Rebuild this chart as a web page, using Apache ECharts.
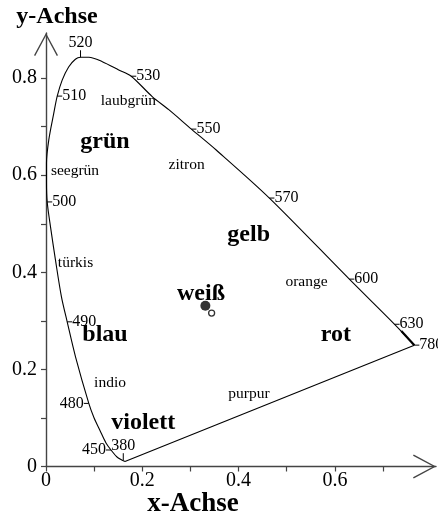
<!DOCTYPE html>
<html>
<head>
<meta charset="utf-8">
<script src="https://cdn.jsdelivr.net/npm/echarts@6/dist/echarts.min.js"></script>
<style>
  html, body { margin: 0; padding: 0; background: #fff; }
  #chart { width: 438px; height: 515px; }
</style>
</head>
<body>
<div id="chart"></div>
<script>
// Spektralfarbenzug der Normfarbtafel, von 380 nm über 520 nm bis 780 nm
const zugX = [0.164, 0.1475, 0.135, 0.1246, 0.1121, 0.0997, 0.0889, 0.0613, 0.044, 0.032, 0.0197, 0.0093,
              0.0025, 0.001, 0.001, 0.0058, 0.016, 0.0233, 0.0336, 0.047, 0.061, 0.0717, 0.089, 0.117, 0.151,
              0.177, 0.2206, 0.255, 0.302, 0.3535, 0.464, 0.630, 0.724, 0.765];
const zugY = [0.0103, 0.0196, 0.034, 0.0484, 0.0742, 0.1004, 0.130, 0.226, 0.298, 0.350, 0.425, 0.494,
              0.545, 0.585, 0.625, 0.673, 0.727, 0.763, 0.796, 0.823, 0.839, 0.843, 0.843, 0.834, 0.817,
              0.804, 0.762, 0.735, 0.695, 0.652, 0.553, 0.386, 0.293, 0.250];

// dicht gedrängtes langwelliges Ende (ca. 680–780 nm)
const rotEndeX = [0.738, 0.765];
const rotEndeY = [0.279, 0.250];

// Wellenlängenmarken in nm
const wlNamen = ['380', '450', '480', '490', '500', '510', '520', '530', '550', '570', '600', '630', '780'];
const wlX = [0.1605, 0.135, 0.0889, 0.044, 0.0025, 0.0233, 0.0717, 0.177, 0.302, 0.464, 0.630, 0.724, 0.765];
const wlY = [0.013, 0.034, 0.130, 0.298, 0.545, 0.763, 0.843, 0.804, 0.695, 0.553, 0.386, 0.293, 0.250];
const wlSeite = ['oben', 'links', 'links', 'rechts', 'rechts', 'rechts', 'oben', 'rechts', 'rechts', 'rechts', 'rechts', 'rechts', 'rechts'];

// Farbbezeichnungen
const farbNamen = ['grün', 'seegrün', 'laubgrün', 'zitron', 'gelb', 'türkis', 'orange', 'weiß', 'blau', 'rot', 'indio', 'purpur', 'violett'];
const farbX = [0.1225, 0.0602, 0.171, 0.292, 0.421, 0.0613, 0.541, 0.322, 0.1225, 0.602, 0.133, 0.4216, 0.202];
const farbY = [0.668, 0.609, 0.753, 0.621, 0.477, 0.419, 0.380, 0.355, 0.271, 0.271, 0.172, 0.149, 0.0896];
const farbFett = [true, false, false, false, true, false, false, true, true, true, false, false, true];

// Weißpunkte
const weissVollX = [0.331], weissVollY = [0.331];
const weissOffenX = [0.344], weissOffenY = [0.316];

// Achsen
const xTickWerte = [0, 0.1, 0.2, 0.3, 0.4, 0.5, 0.6, 0.7];
const xLabelWerte = [0, 0.2, 0.4, 0.6];
const yTickWerte = [0, 0.1, 0.2, 0.3, 0.4, 0.5, 0.6, 0.7, 0.8];
const yLabelWerte = [0, 0.2, 0.4, 0.6, 0.8];

const SERIF = '"Liberation Serif", "DejaVu Serif", serif';
const ACHSFARBE = '#444';
// offene Pfeilspitze (Spitze oben), wird von ECharts in Achsrichtung gedreht
const PFEIL = 'path://M12,0 L24,22.3 L22.8,23 L12,2.7 L1.2,23 L0,22.3 Z';

const paare = (xs, ys) => xs.map((x, i) => [x, ys[i]]);

const chart = echarts.init(document.getElementById('chart'), null, { renderer: 'canvas' });

const achse = (ticks, labels) => ({
  type: 'value',
  axisLine: {
    show: true, onZero: true,
    lineStyle: { color: ACHSFARBE, width: 1.4 },
    symbol: ['none', PFEIL],
    symbolSize: [24, 23],
    symbolOffset: [0, -11.5]
  },
  axisTick: { show: true, length: 5, customValues: ticks, lineStyle: { color: ACHSFARBE, width: 1.2 } },
  axisLabel: {
    show: true, customValues: labels,
    color: '#000', fontFamily: SERIF, fontSize: 20,
    formatter: v => String(v)
  },
  splitLine: { show: false }
});

const xAchse = achse(xTickWerte, xLabelWerte);
xAchse.min = 0; xAchse.max = 0.81;
xAchse.axisLabel.margin = 4;
const yAchse = achse(yTickWerte, yLabelWerte);
yAchse.min = 0; yAchse.max = 0.893;
yAchse.axisLabel.margin = 9;

chart.setOption({
  animation: false,
  backgroundColor: '#fff',
  grid: { left: 46, top: 33, width: 390, height: 433.5, containLabel: false },
  xAxis: xAchse,
  yAxis: yAchse,
  graphic: [
    { type: 'text', x: 57, y: 17, style: { text: 'y-Achse', font: 'bold 24px ' + SERIF, fill: '#000', align: 'center', verticalAlign: 'middle' } },
    { type: 'text', x: 193, y: 504, style: { text: 'x-Achse', font: 'bold 27px ' + SERIF, fill: '#000', align: 'center', verticalAlign: 'middle' } }
  ],
  series: [
    {
      name: 'Spektralfarbenzug',
      type: 'line',
      data: paare(zugX, zugY),
      smooth: 0.3,
      showSymbol: false,
      symbol: 'none',
      clip: false,
      lineStyle: { color: '#000', width: 1.1 },
      z: 3
    },
    {
      name: 'rotes Ende',
      type: 'line',
      data: paare(rotEndeX, rotEndeY),
      showSymbol: false,
      symbol: 'none',
      clip: false,
      lineStyle: { color: '#000', width: 2.2 },
      z: 3
    },
    {
      name: 'Purpurgerade',
      type: 'line',
      data: [[zugX[zugX.length - 1], zugY[zugY.length - 1]], [zugX[0], zugY[0]]],
      showSymbol: false,
      symbol: 'none',
      clip: false,
      lineStyle: { color: '#000', width: 1.1 },
      z: 3
    },
    {
      name: 'Wellenlängen',
      type: 'custom',
      clip: false,
      data: wlNamen.map((n, i) => [wlX[i], wlY[i], i]),
      renderItem: (params, api) => {
        const i = api.value(2);
        const p = api.coord([api.value(0), api.value(1)]);
        const seite = wlSeite[i];
        let linie, text;
        const font = '16px ' + SERIF;
        if (seite === 'rechts') {
          linie = { x1: p[0], y1: p[1], x2: p[0] + 5, y2: p[1] };
          text = { x: p[0] + 5, y: p[1], align: 'left', verticalAlign: 'middle' };
        } else if (seite === 'links') {
          linie = { x1: p[0] - 5, y1: p[1], x2: p[0], y2: p[1] };
          text = { x: p[0] - 5, y: p[1], align: 'right', verticalAlign: 'middle' };
        } else {
          linie = { x1: p[0], y1: p[1], x2: p[0], y2: p[1] - 7 };
          text = { x: p[0], y: p[1] - 6, align: 'center', verticalAlign: 'bottom' };
        }
        return {
          type: 'group',
          children: [
            { type: 'line', shape: linie, style: { stroke: '#000', lineWidth: 1 } },
            { type: 'text', x: text.x, y: text.y,
              style: { text: wlNamen[i], font: font, fill: '#000', align: text.align, verticalAlign: text.verticalAlign } }
          ]
        };
      },
      z: 4
    },
    {
      name: 'Farbnamen',
      type: 'custom',
      clip: false,
      data: farbNamen.map((n, i) => [farbX[i], farbY[i], i]),
      renderItem: (params, api) => {
        const i = api.value(2);
        const p = api.coord([api.value(0), api.value(1)]);
        const fett = farbFett[i];
        return {
          type: 'text', x: p[0], y: p[1],
          style: {
            text: farbNamen[i],
            font: (fett ? 'bold 24px ' : '15.5px ') + SERIF,
            fill: '#000', align: 'center', verticalAlign: 'middle'
          }
        };
      },
      z: 4
    },
    {
      name: 'Weißpunkt',
      type: 'scatter',
      data: paare(weissVollX, weissVollY),
      symbol: 'circle',
      symbolSize: 10,
      itemStyle: { color: '#000' },
      z: 5
    },
    {
      name: 'Weißpunkt offen',
      type: 'scatter',
      data: paare(weissOffenX, weissOffenY),
      symbol: 'circle',
      symbolSize: 6,
      itemStyle: { color: '#fff', borderColor: '#000', borderWidth: 1.3 },
      z: 5
    }
  ]
});
</script>
</body>
</html>
